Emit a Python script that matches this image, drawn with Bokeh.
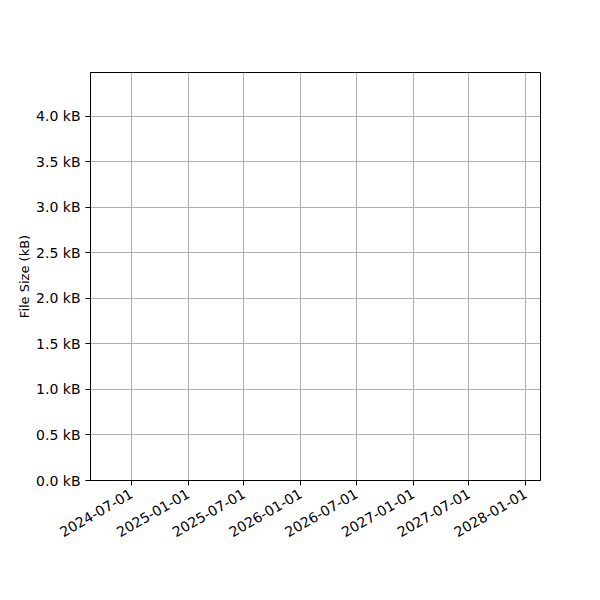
import math
import pandas as pd

from bokeh.plotting import figure
from bokeh.models import (ColumnDataSource, FixedTicker, PrintfTickFormatter,
                          DatetimeTickFormatter, Range1d)
from bokeh.embed import file_html
from bokeh.resources import INLINE

# the chart has no data points, only axes and grid
dates = []
sizes_kb = []

y_ticks = [0.0, 0.5, 1.0, 1.5, 2.0, 2.5, 3.0, 3.5, 4.0]
x_tick_labels = ["2024-07-01", "2025-01-01", "2025-07-01", "2026-01-01",
                 "2026-07-01", "2027-01-01", "2027-07-01", "2028-01-01"]

source = ColumnDataSource(data=dict(date=pd.to_datetime(pd.Series(dates, dtype="object")),
                                    size=sizes_kb))

x_start = pd.Timestamp("2024-02-19")
x_end = pd.Timestamp("2028-02-18")

p = figure(x_axis_type="datetime", output_backend="svg", toolbar_location=None,
           frame_width=450, frame_height=408,
           x_range=Range1d(x_start, x_end), y_range=Range1d(0, 4.48),
           min_border_left=90, min_border_top=72, min_border_right=52,
           min_border_bottom=112)
p.line(x="date", y="size", source=source, color="#1f77b4")

p.background_fill_color = "white"
p.border_fill_color = "white"
p.outline_line_color = "black"
p.outline_line_width = 1

# axes
tick_ms = [pd.Timestamp(d).value // 10**6 for d in x_tick_labels]
p.xaxis.ticker = FixedTicker(ticks=tick_ms)
p.xaxis.formatter = DatetimeTickFormatter(days="%Y-%m-%d", months="%Y-%m-%d",
                                          years="%Y-%m-%d")
p.xaxis.major_label_orientation = math.pi / 6
p.yaxis.ticker = FixedTicker(ticks=y_ticks)
p.yaxis.formatter = PrintfTickFormatter(format="%.1f kB")
p.yaxis.axis_label = "File Size (kB)"
p.yaxis.axis_label_text_font_style = "normal"
p.yaxis.axis_label_text_font = "DejaVu Sans"
p.yaxis.axis_label_text_font_size = "13px"
p.yaxis.axis_label_text_color = "black"
p.yaxis.axis_label_standoff = 1

for ax in [p.xaxis, p.yaxis]:
    ax.major_label_text_font = "DejaVu Sans"
    ax.major_label_text_font_size = "14px"
    ax.major_label_text_color = "black"
    ax.major_label_standoff = 5
    ax.axis_line_color = "black"
    ax.major_tick_line_color = "black"
    ax.major_tick_out = 5
    ax.major_tick_in = 0
    ax.minor_tick_line_color = None
p.xaxis.major_label_standoff = 7

p.grid.grid_line_color = "#b0b0b0"
p.grid.grid_line_width = 1

open("out.html", "w").write(file_html(p, INLINE))
